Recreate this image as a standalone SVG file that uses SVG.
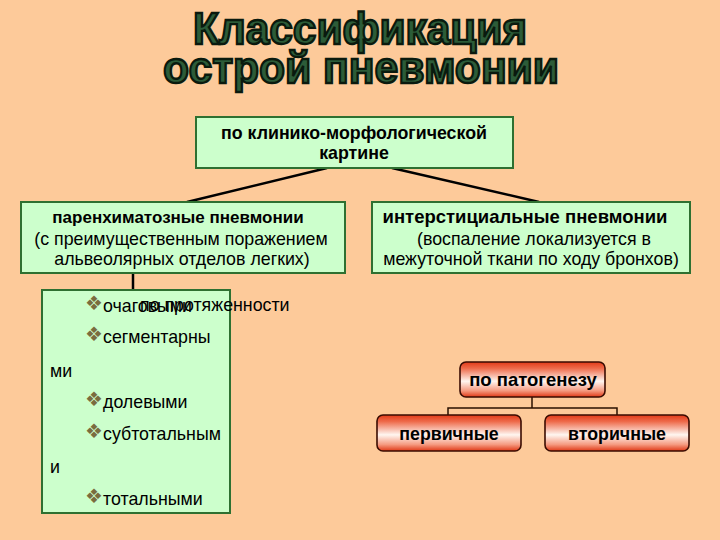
<svg xmlns="http://www.w3.org/2000/svg" width="720" height="540" viewBox="0 0 720 540">
<defs>
<linearGradient id="red" x1="0" y1="0" x2="0" y2="1">
<stop offset="0" stop-color="#E23A18"/>
<stop offset="0.18" stop-color="#EE6A4A"/>
<stop offset="0.55" stop-color="#FFF6F0"/>
<stop offset="0.82" stop-color="#F59A80"/>
<stop offset="1" stop-color="#E03816"/>
</linearGradient>
<style>
.t{font-family:"Liberation Sans",Arial,sans-serif;fill:#000}
.b{font-weight:bold}
.title{font-family:"Liberation Sans",Arial,sans-serif;font-weight:bold;font-size:45px;fill:#2C5C38;stroke:#0A1A0E;stroke-width:2.4;text-anchor:middle}
.g{fill:#CCFFCC;stroke:#2E7031;stroke-width:2}
.r{fill:url(#red);stroke:#3A0C02;stroke-width:1.6}
.c{stroke:#000;stroke-width:2.5;fill:none}
.c2{stroke:#2A1000;stroke-width:1.5;fill:none}
.m{text-anchor:middle}
.bul{font-family:"DejaVu Sans",sans-serif;font-size:20px;fill:#7A6C3E}
</style>
</defs>
<rect width="720" height="540" fill="#FDCA9A"/>
<g id="title">
<text class="title" x="360" y="44" textLength="334" lengthAdjust="spacingAndGlyphs">Классификация</text>
<text class="title" x="361" y="83" textLength="396" lengthAdjust="spacingAndGlyphs">острой пневмонии</text>
</g>
<g id="connectors">
<line class="c" x1="327" y1="168" x2="187" y2="202"/>
<line class="c" x1="392" y1="168" x2="539" y2="202"/>
<line class="c" x1="133" y1="273" x2="133" y2="322"/>
<polyline class="c2" points="532,397 532,408"/>
<polyline class="c2" points="448,415 448,408 617,408 617,415"/>
</g>
<g id="node-clinic">
<rect class="g" x="196" y="117" width="317" height="51"/>
<text class="t b m" x="354" y="139" font-size="17.8">по клинико-морфологической</text>
<text class="t b m" x="354" y="159" font-size="17.8">картине</text>
</g>
<g id="node-parenchymal">
<rect class="g" x="21" y="202" width="324" height="71"/>
<text class="t b m" x="178" y="223" font-size="17">паренхиматозные пневмонии</text>
<text class="t m" x="181" y="245" font-size="17.8">(с преимущественным поражением</text>
<text class="t m" x="182" y="265" font-size="17.8">альвеолярных отделов легких)</text>
</g>
<g id="node-interstitial">
<rect class="g" x="372" y="202" width="318" height="71"/>
<text class="t b m" x="525" y="223" font-size="18.5">интерстициальные пневмонии</text>
<text class="t m" x="534" y="245" font-size="17.8">(воспаление локализуется в</text>
<text class="t m" x="531" y="265" font-size="17.8">межуточной ткани по ходу бронхов)</text>
</g>
<g id="node-extent">
<rect class="g" x="42" y="290" width="188" height="223"/>
<text class="bul" x="85" y="310">❖</text>
<text class="t" x="103" y="312" font-size="17.8">очаговыми</text>
<text class="bul" x="85" y="341">❖</text>
<text class="t" x="103" y="343" font-size="17.8">сегментарны</text>
<text class="t" x="50" y="377" font-size="17.8">ми</text>
<text class="bul" x="85" y="406">❖</text>
<text class="t" x="103" y="408" font-size="17.8">долевыми</text>
<text class="bul" x="85" y="438">❖</text>
<text class="t" x="103" y="440" font-size="17.8">субтотальным</text>
<text class="t" x="50" y="473" font-size="17.8">и</text>
<text class="bul" x="85" y="503">❖</text>
<text class="t" x="103" y="505" font-size="17.8">тотальными</text>
<text class="t" x="140" y="311" font-size="17.8">по протяженности</text>
</g>
<g id="node-pathogenesis">
<rect class="r" x="460" y="362" width="145" height="35" rx="6"/>
<text class="t b m" x="533" y="386" font-size="18.5">по патогенезу</text>
</g>
<g id="node-primary">
<rect class="r" x="377" y="415" width="144" height="36" rx="6"/>
<text class="t b m" x="449" y="440" font-size="17.8">первичные</text>
</g>
<g id="node-secondary">
<rect class="r" x="545" y="415" width="144" height="36" rx="6"/>
<text class="t b m" x="617" y="440" font-size="17.8">вторичные</text>
</g>
</svg>
